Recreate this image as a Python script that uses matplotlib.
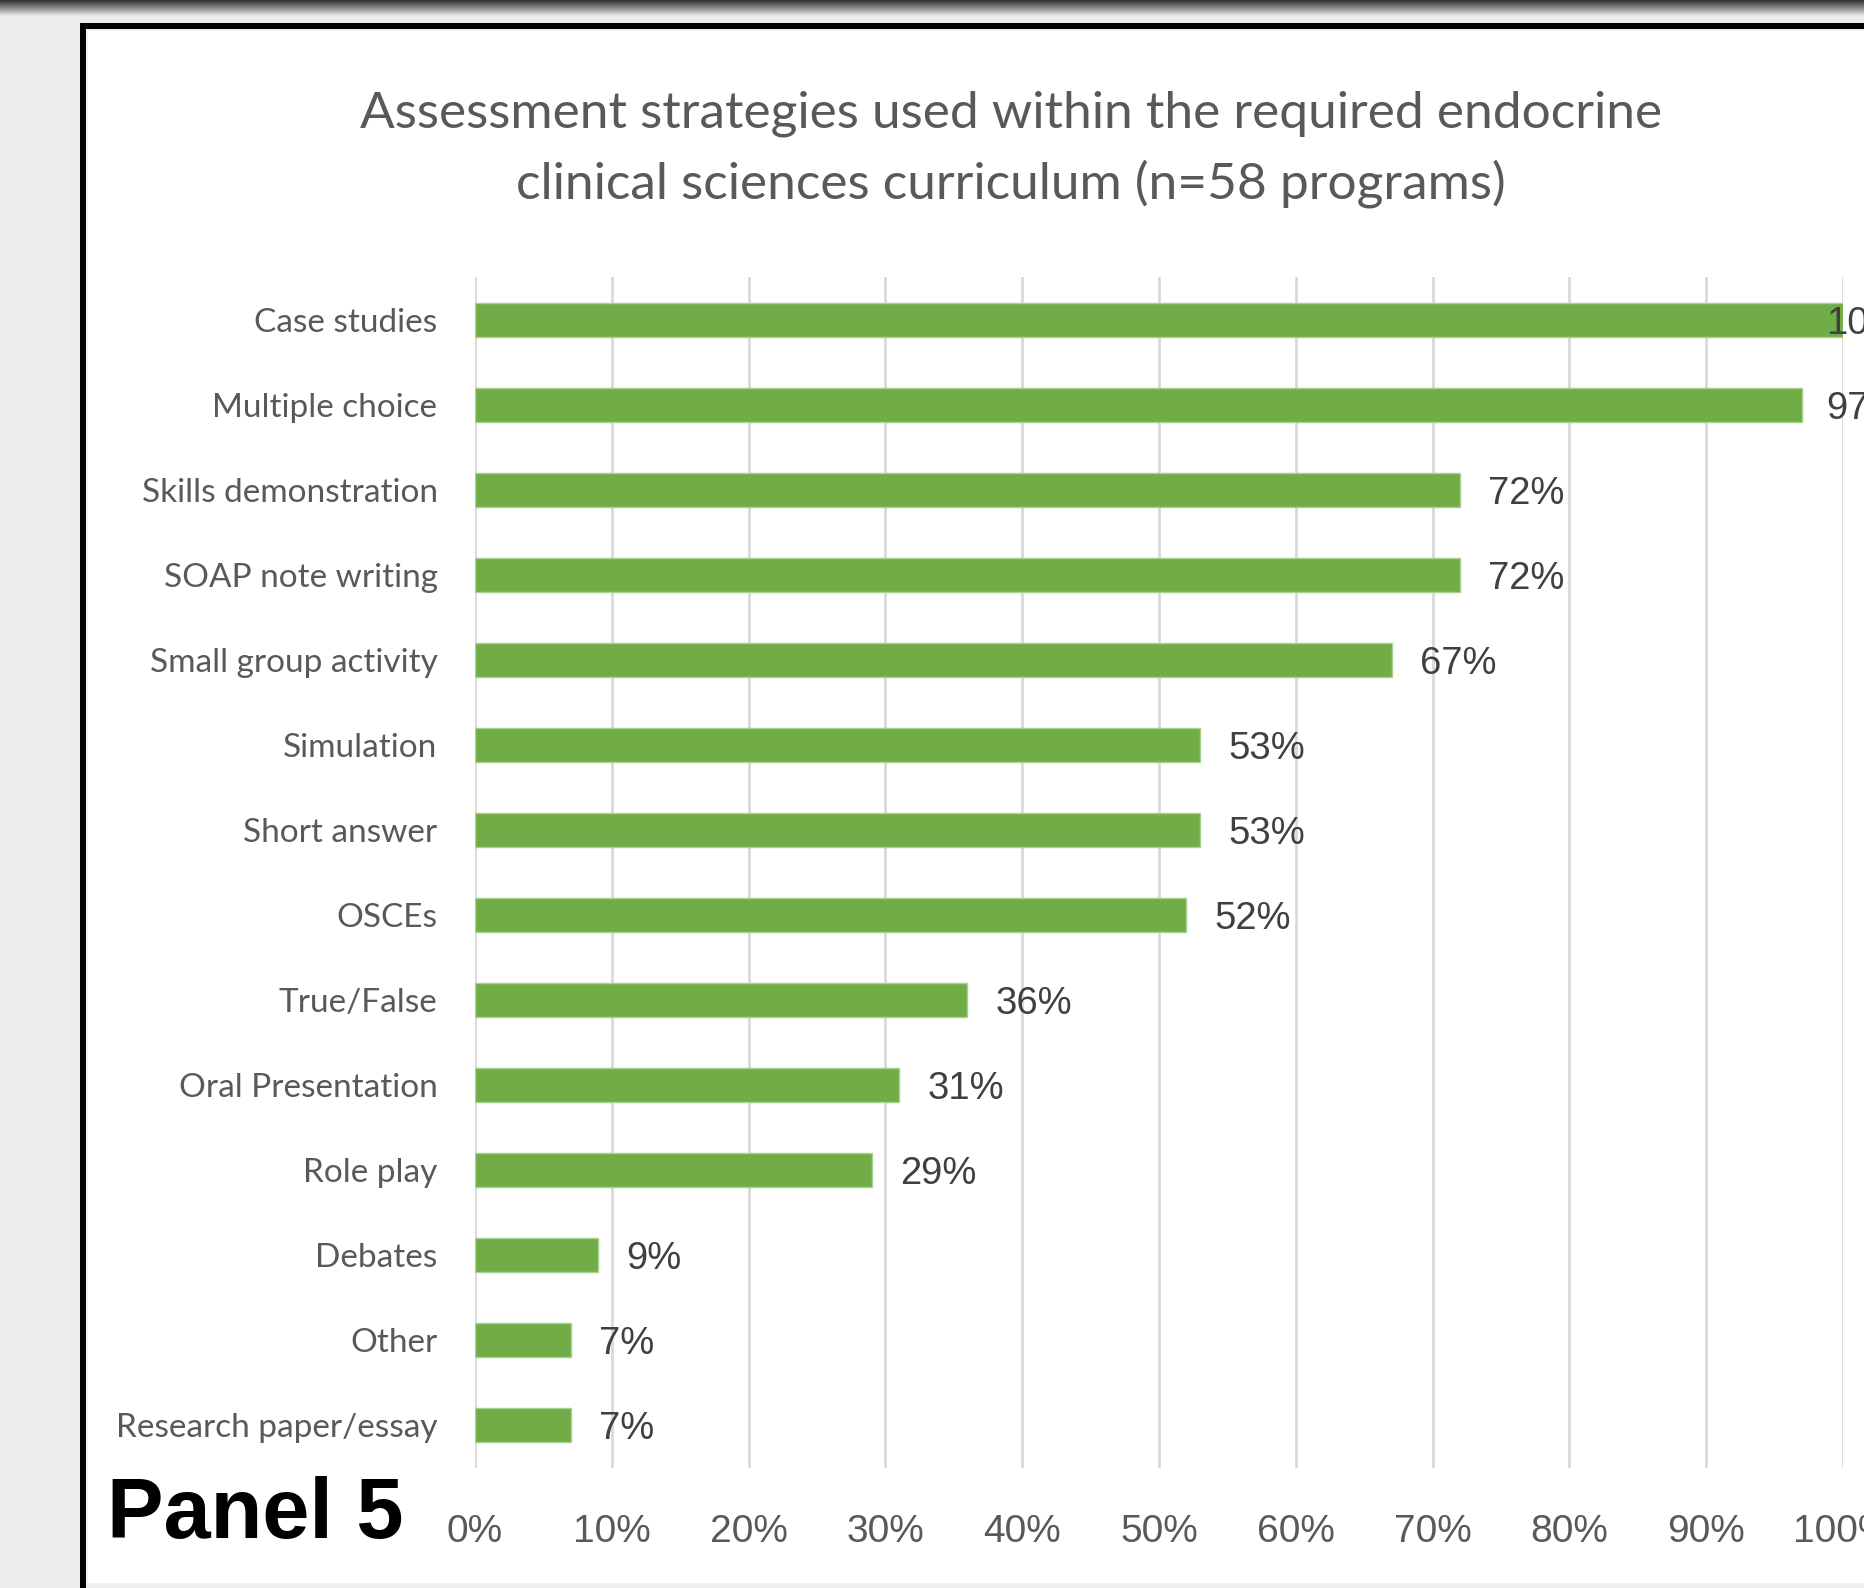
import numpy as np
import matplotlib
matplotlib.use('Agg')
from matplotlib import pyplot as plt
from matplotlib.patches import Rectangle

categories = ['Case studies', 'Multiple choice', 'Skills demonstration', 'SOAP note writing',
              'Small group activity', 'Simulation', 'Short answer', 'OSCEs', 'True/False',
              'Oral Presentation', 'Role play', 'Debates', 'Other', 'Research paper/essay']
percent = [100, 97, 72, 72, 67, 53, 53, 52, 36, 31, 29, 9, 7, 7]
x_ticks = [0, 10, 20, 30, 40, 50, 60, 70, 80, 90, 100]
x_tick_labels = ['0%', '10%', '20%', '30%', '40%', '50%', '60%', '70%', '80%', '90%', '100%']

W, H = 1864, 1588
fig = plt.figure(figsize=(W / 100, H / 100), dpi=100)
fig.patch.set_facecolor('#ececec')


def px_rect(x0, y0, x1, y1, color):
    # rectangle in pixel coords (y from top)
    fig.add_artist(Rectangle((x0 / W, 1 - y1 / H), (x1 - x0) / W, (y1 - y0) / H,
                             transform=fig.transFigure, facecolor=color, edgecolor='none', zorder=0))


# screenshot frame
grad = fig.add_axes([0, 1 - 16 / H, 1, 16 / H])
grad.imshow(np.linspace(0.2, 0.9, 16).reshape(-1, 1), cmap='gray', vmin=0, vmax=1,
            aspect='auto', extent=[0, 1, 0, 1])
grad.axis('off')
px_rect(80, 23, W, 29, '#000000')
px_rect(80, 23, 86, H, '#000000')
px_rect(86, 29, W, 1585, '#f2f2f2')
px_rect(88, 31, W, 1583, '#ffffff')

title_font = ['Lato', 'DejaVu Sans']
fig.text(1011 / W, 1 - 149 / H,
         'Assessment strategies used within the required endocrine\nclinical sciences curriculum (n=58 programs)',
         ha='center', va='center', fontsize=37, color='#595959', family=title_font,
         linespacing=1.58)

ax = fig.add_axes([475 / W, 1 - 1468 / H, (1843 - 475) / W, (1468 - 277) / H])
ax.set_facecolor('none')
y = np.arange(len(categories))
ax.barh(y, percent, height=0.4, color='#70ad47', edgecolor='#a9d18e', linewidth=1, zorder=3)

for i, v in enumerate(percent):
    ax.text(min(v + 2.05, 98.8), i, f'{v}%', va='center_baseline', ha='left', fontsize=27.5,
            color='#404040', family='Liberation Sans', zorder=4)

ax.set_xlim(0, 100)
ax.set_ylim(len(categories) - 0.5, -0.5)
ax.set_xticks(x_ticks)
ax.set_xticklabels(x_tick_labels, fontsize=28, color='#595959', family='Liberation Sans')
ax.set_yticks(y)
ax.set_yticklabels(categories, fontsize=24, color='#595959', family=title_font)
ax.tick_params(axis='both', length=0)
ax.tick_params(axis='x', pad=33)
ax.tick_params(axis='y', pad=27)
ax.grid(axis='x', color='#d9d9d9', linewidth=2, zorder=0)
for s in ax.spines.values():
    s.set_visible(False)

fig.text(107 / W, 1 - 1516 / H, 'Panel 5', ha='left', va='center', fontsize=61,
         fontweight='bold', color='#000000', family='Liberation Sans')

plt.savefig('out.png', dpi=100, facecolor=fig.get_facecolor())
